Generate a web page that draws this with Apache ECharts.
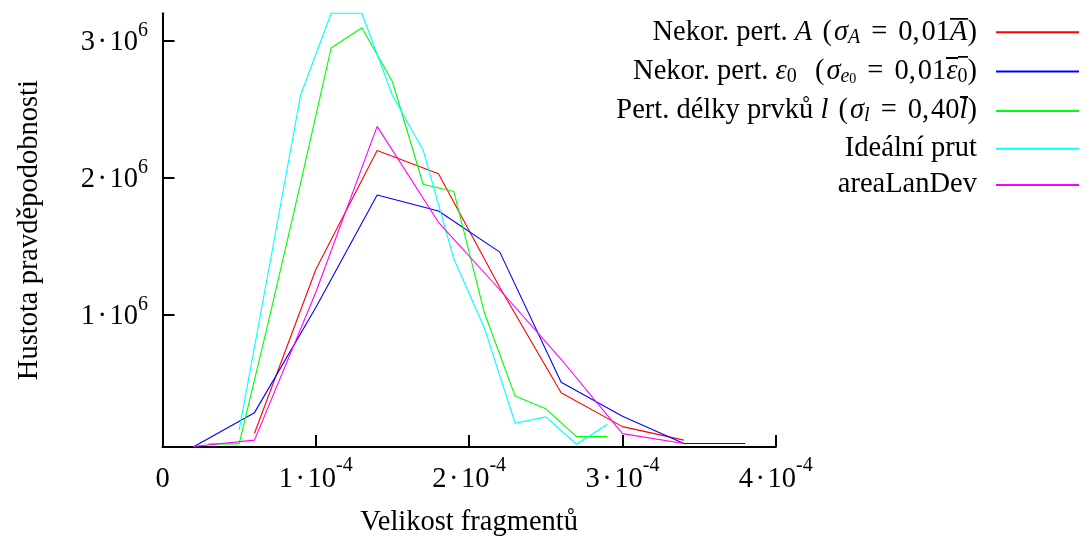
<!DOCTYPE html>
<html><head><meta charset="utf-8">
<script src="https://cdn.jsdelivr.net/npm/echarts@6/dist/echarts.min.js"></script>
<style>html,body{margin:0;padding:0;background:#fff}#c{width:1082px;height:542px}</style>
</head><body><div id="c"></div>
<script>
// ---------- data ----------
const seriesNames = [
  'Nekor. pert. A (σA = 0,01A)',
  'Nekor. pert. ε0 (σe0 = 0,01ε0)',
  'Pert. délky prvků l (σl = 0,40l)',
  'Ideální prut',
  'areaLanDev'
];
const seriesColors = ['#ff0000', '#0000ff', '#00ff00', '#00ffff', '#ff00ff'];

const redX = [6e-5, 1.0e-4, 1.4e-4, 1.8e-4, 2.2e-4, 2.6e-4, 3.0e-4, 3.4e-4];
const redY = [131000, 1328000, 2197000, 2028000, 1196000, 427000, 180000, 81000];

const blueX = [2e-5, 6e-5, 1.0e-4, 1.4e-4, 1.8e-4, 2.2e-4, 2.6e-4, 3.0e-4, 3.4e-4, 3.8e-4];
const blueY = [31000, 282000, 1051000, 1873000, 1755000, 1455000, 504000, 256000, 57000, 57000];

const greenX = [3e-5, 5e-5, 7e-5, 9e-5, 1.1e-4, 1.3e-4, 1.5e-4, 1.7e-4, 1.9e-4, 2.1e-4, 2.3e-4, 2.5e-4, 2.7e-4, 2.9e-4];
const greenY = [54000, 54000, 990000, 1956000, 2947000, 3095000, 2700000, 1951000, 1898000, 1010000, 403000, 310000, 107000, 107000];

const cyanX = [5e-5, 7e-5, 9e-5, 1.1e-4, 1.3e-4, 1.5e-4, 1.7e-4, 1.9e-4, 2.1e-4, 2.3e-4, 2.5e-4, 2.7e-4, 2.9e-4];
const cyanY = [156000, 1370000, 2599000, 3200000, 3200000, 2599000, 2200000, 1406000, 898000, 205000, 251000, 51000, 196000];

const magentaX = [2e-5, 6e-5, 1.0e-4, 1.4e-4, 1.8e-4, 2.2e-4, 2.6e-4, 3.0e-4, 3.4e-4];
const magentaY = [35000, 81000, 1162000, 2374000, 1673000, 1180000, 672000, 129000, 57000];

const xTicks = [0, 1e-4, 2e-4, 3e-4, 4e-4];
const xTickMantissa = ['0', '1', '2', '3', '4'];
const xTickExponent = ['', '-4', '-4', '-4', '-4'];
const yTicks = [1e6, 2e6, 3e6];
const yTickMantissa = ['1', '2', '3'];
const yTickExponent = ['6', '6', '6'];

const xAxisName = 'Velikost fragmentů';
const yAxisName = 'Hustota pravděpodobnosti';

// rich-text versions of legend entries
const legendRich = [
  '{n|Nekor. pert. }{i|A}{op| (}{sg|σ}{sub|A}{eq|=}{n|0,}{c|01}{ovi|A}{n|)}{gap| }',
  '{n|Nekor. pert. }{i|ε}{sub0w|0}{op| (}{sg|σ}{sub|e}{subsub|0}{eq|=}{n|0,}{c|01}{ovi|ε}{ovsub|0}{n|)}{gap| }',
  '{n|Pert. délky prvků }{i|l}{op| (}{sg|σ}{sub|l}{eq|=}{n|0,}{c|40}{ovi|l}{n|)}{gap| }',
  '{n|Ideální prut}{gap| }',
  '{n|areaLanDev}{gap| }'
];

// ---------- helpers ----------
const FONT = 'Liberation Serif';
const FS = 28.5;
const bar = document.createElement('canvas');
bar.width = 8; bar.height = 64;
(function () { const g = bar.getContext('2d'); g.fillStyle = '#000'; g.fillRect(0, 0, 8, 4); })();

function pairs(xs, ys) { return xs.map((x, i) => [x, ys[i]]); }
const allX = [redX, blueX, greenX, cyanX, magentaX];
const allY = [redY, blueY, greenY, cyanY, magentaY];

function tickLabel(v, ticks, mant, exp) {
  let idx = 0, best = Infinity;
  ticks.forEach((t, i) => { const d = Math.abs(t - v); if (d < best) { best = d; idx = i; } });
  if (!exp[idx]) return '{m|' + mant[idx] + '}';
  return '{m|' + mant[idx] + '}{d|·}{m|10}{s|' + exp[idx] + '}';
}

const base = { fontFamily: FONT, fontSize: FS, lineHeight: 32, color: '#000' };
const subBase = { fontFamily: FONT, fontSize: 20, lineHeight: 20, padding: [11, 0, 1, 0], color: '#000' };
const chart = echarts.init(document.getElementById('c'), null, { renderer: 'canvas' });
const option = {
  backgroundColor: '#fff',
  animation: false,
  grid: { left: 162.5, right: 306.2, top: 13.3, bottom: 92.5, containLabel: false },
  legend: {
    orient: 'vertical', right: 2, top: 16.3, padding: 0,
    align: 'right', itemWidth: 83, itemHeight: 32, itemGap: 7.3,
    itemStyle: { opacity: 0 },
    data: seriesNames,
    formatter: name => legendRich[seriesNames.indexOf(name)],
    textStyle: {
      fontFamily: FONT, fontSize: FS, color: '#000',
      rich: {
        n: base,
        op: Object.assign({}, base, { padding: [0, 0, 0, 3] }),
        i: Object.assign({}, base, { fontStyle: 'italic' }),
        sg: Object.assign({}, base, { fontStyle: 'italic', padding: [0, 0, 0, 2] }),
        eq: Object.assign({}, base, { padding: [0, 11, 0, 11] }),
        c: Object.assign({}, base, { padding: [0, 0, 0, 2] }),
        sub: Object.assign({}, subBase, { fontStyle: 'italic' }),
        sub0: subBase,
        sub0w: Object.assign({}, subBase, { padding: [11, 8, 1, 0] }),
        subsub: { fontFamily: FONT, fontSize: 14, lineHeight: 14, padding: [17, 0, 1, 0], color: '#000' },
        ovi: Object.assign({}, base, { fontStyle: 'italic', backgroundColor: { image: bar } }),
        ovsub: Object.assign({}, subBase, { backgroundColor: { image: bar } }),
        gap: Object.assign({}, base, { width: 14 })
      }
    }
  },
  xAxis: {
    type: 'value', min: 0, max: 4e-4, interval: 1e-4,
    name: xAxisName, nameLocation: 'middle', nameGap: 61,
    nameTextStyle: { fontFamily: FONT, fontSize: FS, color: '#000' },
    axisLine: { onZero: false, lineStyle: { color: '#000', width: 2 } },
    axisTick: { inside: true, length: 12, customValues: xTicks, lineStyle: { color: '#000', width: 2 } },
    splitLine: { show: false },
    axisLabel: {
      customValues: xTicks, margin: 10.5, color: '#000',
      formatter: v => tickLabel(v, xTicks, xTickMantissa, xTickExponent),
      rich: {
        m: { fontFamily: FONT, fontSize: FS, lineHeight: 30, padding: [14, 0, 0, 0], color: '#000' },
        d: { fontFamily: FONT, fontSize: FS, lineHeight: 30, padding: [14, 2.5, 0, 2.5], color: '#000' },
        s: { fontFamily: FONT, fontSize: 20, lineHeight: 20, padding: [5, 0, 19, 0], color: '#000' }
      }
    }
  },
  yAxis: {
    type: 'value', min: 'dataMin', max: 'dataMax',
    name: yAxisName, nameLocation: 'middle', nameGap: 118,
    nameTextStyle: { fontFamily: FONT, fontSize: FS, color: '#000' },
    axisLine: { onZero: false, lineStyle: { color: '#000', width: 2 } },
    axisTick: { inside: true, length: 12, customValues: yTicks, lineStyle: { color: '#000', width: 2 } },
    splitLine: { show: false },
    axisLabel: {
      customValues: yTicks, margin: 14.5, color: '#000',
      formatter: v => tickLabel(v, yTicks, yTickMantissa, yTickExponent),
      rich: {
        m: { fontFamily: FONT, fontSize: FS, lineHeight: 30, padding: [9, 0, 5, 0], color: '#000' },
        d: { fontFamily: FONT, fontSize: FS, lineHeight: 30, padding: [9, 2.5, 5, 2.5], color: '#000' },
        s: { fontFamily: FONT, fontSize: 20, lineHeight: 20, padding: [2, 0, 22, 0], color: '#000' }
      }
    }
  },
  series: seriesNames.map((name, i) => ({
    name, type: 'line', symbol: 'none', showSymbol: false, clip: false,
    data: pairs(allX[i], allY[i]),
    color: seriesColors[i],
    itemStyle: { color: seriesColors[i] },
    lineStyle: { color: seriesColors[i], width: 1.1 }
  }))
};
chart.setOption(option);
</script></body></html>
